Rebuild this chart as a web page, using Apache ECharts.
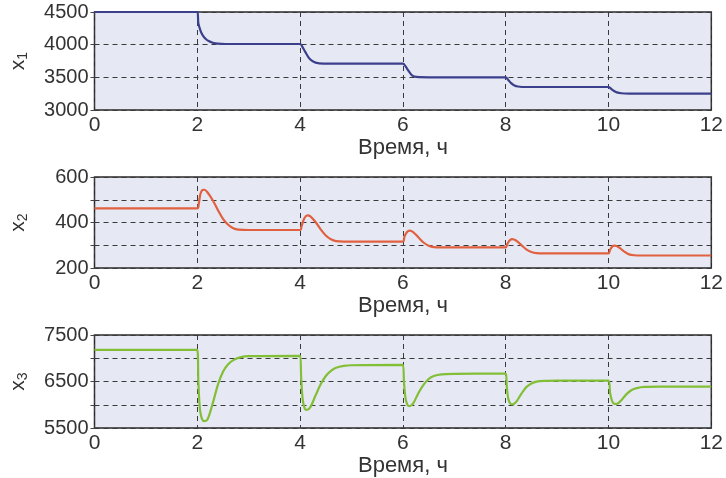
<!DOCTYPE html>
<html><head><meta charset="utf-8">
<script src="https://cdn.jsdelivr.net/npm/echarts@6/dist/echarts.min.js"></script>
<style>html,body{margin:0;padding:0;background:#fff}#c{width:726px;height:478px}</style>
</head><body><div id="c"></div>
<script>
// Time axis ticks (hours)
var xTicks = [0, 2, 4, 6, 8, 10, 12];
var xName = 'Время, ч';

// x1 series: [time, value]
var x1Data = [
 [0,4500],[2.0,4500],[2.02,4330],[2.06,4220],[2.1,4150],[2.16,4090],[2.22,4055],[2.3,4030],[2.4,4015],[2.55,4010],[4.0,4010],
 [4.05,3960],[4.1,3890],[4.16,3810],[4.22,3760],[4.3,3725],[4.45,3710],[6.0,3710],
 [6.05,3670],[6.1,3610],[6.16,3545],[6.22,3512],[6.32,3502],[6.5,3500],[8.0,3500],
 [8.05,3460],[8.1,3415],[8.16,3380],[8.24,3360],[8.4,3352],[10.0,3352],
 [10.05,3325],[10.1,3295],[10.16,3270],[10.25,3256],[10.4,3252],[12,3252]
];
// x2 series
var x2Data = [
 [0,462],[2.0,462],[2.03,485],[2.06,525],[2.1,543],[2.14,544],[2.2,532],[2.3,498],[2.4,455],[2.5,416],[2.6,390],[2.7,375],[2.8,369],[3.0,367],[4.0,367],
 [4.03,385],[4.08,418],[4.14,431],[4.2,427],[4.3,402],[4.4,370],[4.5,343],[4.6,326],[4.7,318],[4.85,316],[6.0,316],
 [6.03,338],[6.08,358],[6.13,364],[6.2,358],[6.3,335],[6.4,312],[6.5,298],[6.6,292],[6.75,291],[8.0,291],
 [8.03,305],[8.08,322],[8.13,327],[8.2,321],[8.3,302],[8.4,282],[8.5,270],[8.6,265],[8.75,264],[10.0,264],
 [10.03,280],[10.07,294],[10.12,298],[10.2,291],[10.3,273],[10.4,260],[10.5,256],[10.65,255],[12,255]
];
// x3 series
var x3Data = [
 [0,7180],[2.0,7180],[2.02,6500],[2.05,5920],[2.09,5700],[2.14,5650],[2.2,5690],[2.3,6030],[2.4,6430],[2.5,6710],[2.6,6870],[2.7,6960],[2.85,7025],[3.0,7045],[4.0,7050],
 [4.02,6600],[4.05,6120],[4.09,5920],[4.13,5890],[4.2,5950],[4.3,6200],[4.4,6440],[4.5,6620],[4.6,6730],[4.7,6795],[4.85,6835],[5.0,6850],[6.0,6860],
 [6.02,6500],[6.05,6150],[6.09,5995],[6.13,5970],[6.2,6030],[6.3,6250],[6.4,6430],[6.5,6555],[6.6,6620],[6.75,6655],[7.0,6665],[8.0,6670],
 [8.02,6400],[8.05,6130],[8.09,6025],[8.13,6010],[8.2,6060],[8.3,6230],[8.4,6380],[8.5,6460],[8.6,6500],[8.75,6515],[9.0,6520],[10.0,6522],
 [10.03,6260],[10.07,6080],[10.12,6020],[10.17,6025],[10.25,6100],[10.35,6230],[10.45,6320],[10.55,6360],[10.7,6385],[11.0,6390],[12,6390]
];

// y-axis settings per panel
var yNames = ['1', '2', '3'];
var yMin = [3000, 200, 5500];
var yMax = [4500, 600, 7500];
var yInterval = [500, 100, 500];
var yLabelStep = [500, 200, 1000];
var colors = ['#3b3f8c', '#e0603f', '#82be36'];
var seriesData = [x1Data, x2Data, x3Data];

var grids = [
 {left: 92, top: 12, width: 627, height: 98},
 {left: 92, top: 177, width: 627, height: 91},
 {left: 92, top: 335, width: 627, height: 98}
];

var font = 'Liberation Sans, Arial, sans-serif';
var option = {grid: [], xAxis: [], yAxis: [], series: [], animation: false};
for (var i = 0; i < 3; i++) {
  var g = grids[i];
  option.grid.push({left: g.left, top: g.top, width: g.width, height: g.height, show: true,
    backgroundColor: '#e6e9f4', borderColor: '#2a2a2a', borderWidth: 1.5});
  option.xAxis.push({type: 'value', gridIndex: i, min: xTicks[0], max: xTicks[xTicks.length-1], interval: 2,
    name: xName, nameLocation: 'middle', nameGap: 24,
    nameTextStyle: {fontFamily: font, fontSize: 22, color: '#333'},
    axisLine: {show: false}, axisTick: {show: false},
    axisLabel: {fontFamily: font, fontSize: 21, color: '#333', margin: 5},
    splitLine: {show: true, lineStyle: {color: '#3a3a3a', type: [5, 4], width: 1}}});
  (function(step, mn){
  option.yAxis.push({type: 'value', gridIndex: i, min: yMin[i], max: yMax[i], interval: yInterval[i],
    name: '{n|x}{s|' + yNames[i] + '}', nameLocation: 'middle', nameGap: 64, nameRotate: 90,
    nameTextStyle: {rich: {n: {fontFamily: font, fontSize: 21, color: '#333'}, s: {fontFamily: font, fontSize: 14, color: '#333', verticalAlign: 'bottom', padding: [10, 0, 0, 0]}}},
    axisLine: {show: false},
    axisTick: {show: true, inside: false, length: 4, lineStyle: {color: '#444'}},
    axisLabel: {fontFamily: font, fontSize: 20, color: '#333', margin: 6,
      formatter: function(v){ return ((v - mn) % step === 0) ? String(v) : ''; }},
    splitLine: {show: true, lineStyle: {color: '#3a3a3a', type: [5, 4], width: 1}}});
  })(yLabelStep[i], yMin[i]);
  option.series.push({type: 'line', xAxisIndex: i, yAxisIndex: i, data: seriesData[i],
    showSymbol: false, smooth: 0.3, lineStyle: {color: colors[i], width: 2.2}, z: 5});
}
var chart = echarts.init(document.getElementById('c'), null, {renderer: 'canvas'});
chart.setOption(option);
</script></body></html>
